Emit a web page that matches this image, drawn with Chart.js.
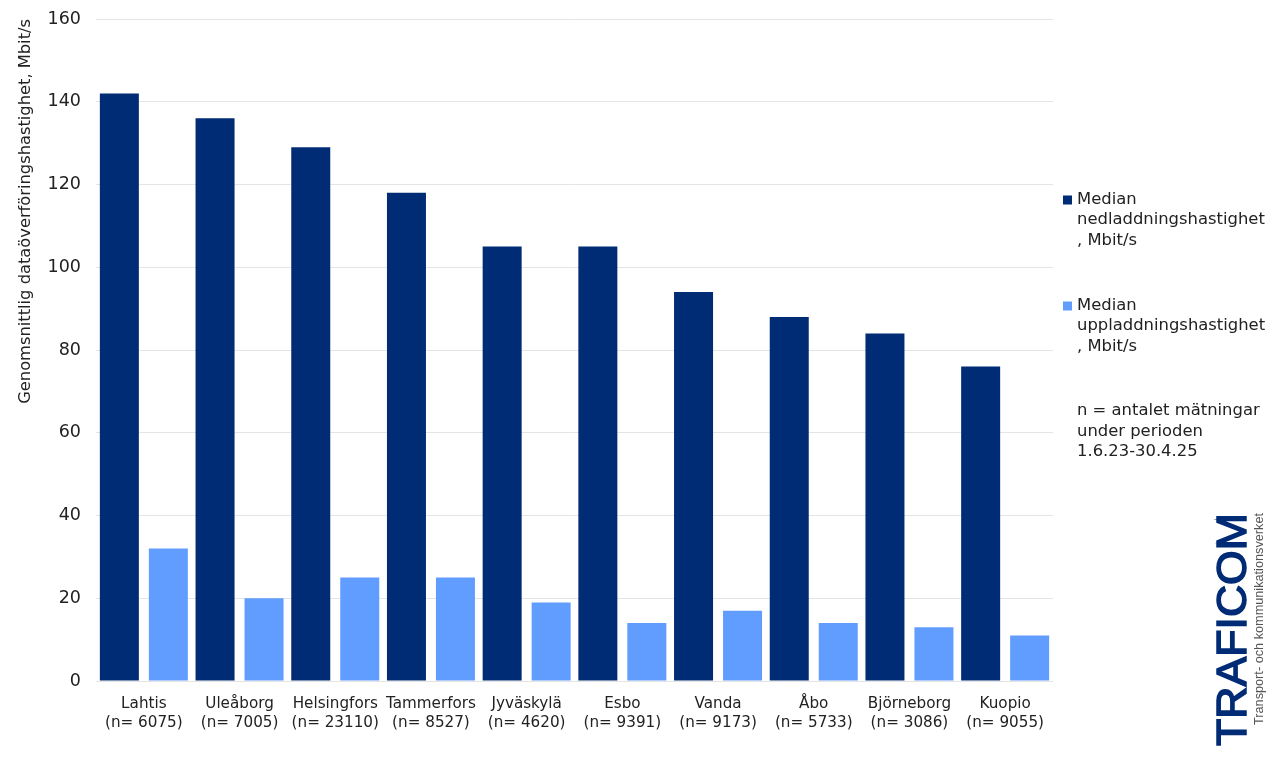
<!DOCTYPE html>
<html>
<head>
<meta charset="utf-8">
<style>
  html, body { margin: 0; background: #fff; }
</style>
<script src="https://cdn.jsdelivr.net/npm/chart.js@4"></script>
</head>
<body>
<canvas id="chart" width="1280" height="760"></canvas>
<script>
const cities = ["Lahtis", "Uleåborg", "Helsingfors", "Tammerfors", "Jyväskylä", "Esbo", "Vanda", "Åbo", "Björneborg", "Kuopio"];
const counts = ["(n= 6075)", "(n= 7005)", "(n= 23110)", "(n= 8527)", "(n= 4620)", "(n= 9391)", "(n= 9173)", "(n= 5733)", "(n= 3086)", "(n= 9055)"];
const download = [142, 136, 129, 118, 105, 105, 94, 88, 84, 76];
const upload = [32, 20, 25, 25, 19, 14, 17, 14, 13, 11];
const downloadLines = ["Median", "nedladdningshastighet", ", Mbit/s"];
const uploadLines = ["Median", "uppladdningshastighet", ", Mbit/s"];
const noteLines = ["n = antalet mätningar", "under perioden", "1.6.23-30.4.25"];

const FONT = '"DejaVu Sans", Verdana, sans-serif';
const TEXT = "#222222";
const DARK = "#002b75";
const LIGHT = "#619cff";

// Legend, note and logo sit outside the plot area
const sidePanel = {
  id: "sidePanel",
  afterDraw(chart) {
    const ctx = chart.ctx;
    ctx.save();
    ctx.textBaseline = "middle";
    ctx.textAlign = "left";
    ctx.font = "16.4px " + FONT;

    const block = (lines, top, color) => {
      if (color) {
        ctx.fillStyle = color;
        ctx.fillRect(1063, top - 4, 9, 9);
      }
      ctx.fillStyle = TEXT;
      lines.forEach((line, i) => ctx.fillText(line, 1077, top + i * 20.4));
    };
    block(downloadLines, 199.5, DARK);
    block(uploadLines, 305.5, LIGHT);
    block(noteLines, 411, null);

    // Rotated logo text, squeezed to the reference length
    const rotated = (text, x, y, font, color, length, outline) => {
      ctx.save();
      ctx.translate(x, y);
      ctx.rotate(-Math.PI / 2);
      ctx.font = font;
      ctx.fillStyle = color;
      ctx.scale(length / ctx.measureText(text).width, 1);
      ctx.textBaseline = "alphabetic";
      ctx.fillText(text, 0, 0);
      if (outline) {
        ctx.strokeStyle = color;
        ctx.lineWidth = outline;
        ctx.strokeText(text, 0, 0);
      }
      ctx.restore();
    };
    rotated("TRAFICOM", 1246, 746, '42px "Liberation Sans", sans-serif', DARK, 233, 1.5);
    rotated("Transport- och kommunikationsverket", 1263, 725, '12px "Liberation Sans", sans-serif', "#555555", 212);
    ctx.restore();
  },
};

new Chart(document.getElementById("chart").getContext("2d"), {
  type: "bar",
  data: {
    labels: cities.map((city, i) => [city, counts[i]]),
    datasets: [
      { label: downloadLines.join(" "), data: download, backgroundColor: DARK },
      { label: uploadLines.join(" "), data: upload, backgroundColor: LIGHT },
    ],
  },
  options: {
    responsive: false,
    animation: false,
    layout: { padding: { top: 19, right: 227, bottom: 0, left: 0 } },
    datasets: { bar: { categoryPercentage: 1.024, barPercentage: 0.796 } },
    scales: {
      x: {
        afterFit: (scale) => { scale.height = 79; },
        grid: { display: false },
        border: { display: false },
        ticks: { color: TEXT, font: { family: FONT, size: 15.2, lineHeight: 1.27 }, padding: 5, maxRotation: 0, autoSkip: false },
      },
      y: {
        min: 0,
        max: 160,
        // tick padding would otherwise push the plot area down
        afterFit: (scale) => {
          scale.width = 96;
          scale.paddingTop = 0;
          scale.paddingBottom = 0;
        },
        grid: { color: "#e4e4e4", drawTicks: false },
        border: { display: false },
        ticks: { stepSize: 20, color: TEXT, font: { family: FONT, size: 17.5 }, padding: 15 },
        title: {
          display: true,
          text: "Genomsnittlig dataöverföringshastighet, Mbit/s",
          color: TEXT,
          align: "end",
          font: { family: FONT, size: 16.3 },
          padding: { top: 16, bottom: 0 },
        },
      },
    },
    plugins: { legend: { display: false }, title: { display: false }, tooltip: { enabled: false } },
  },
  plugins: [sidePanel],
});
</script>
</body>
</html>
